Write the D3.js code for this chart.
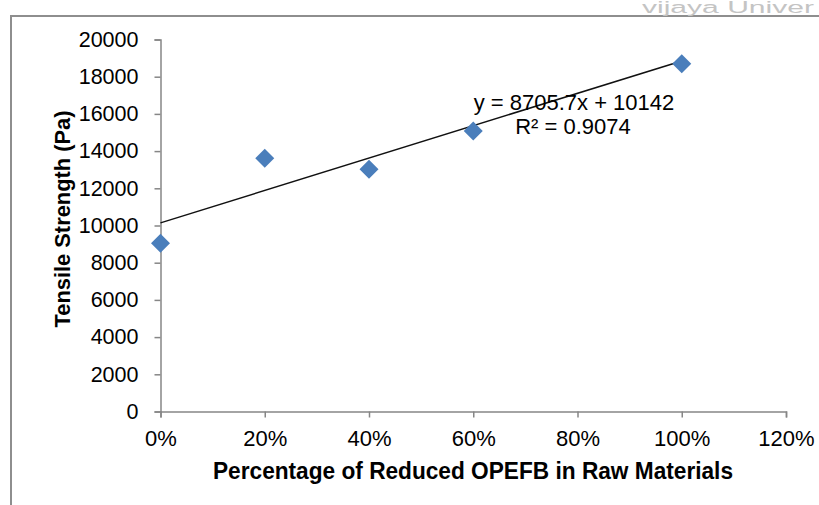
<!DOCTYPE html>
<html>
<head>
<meta charset="utf-8">
<script src="https://cdn.jsdelivr.net/npm/d3@7"></script>
<style>
  body { margin: 0; background: #fff; }
  svg { display: block; font-family: "Liberation Sans", Arial, sans-serif; }
</style>
</head>
<body>
<div id="chart"></div>
<script>
// data
const reduction = [0, 0.2, 0.4, 0.6, 1.0];
const tensile = [9050, 13620, 13030, 15080, 18700];
const yTicks = [0, 2000, 4000, 6000, 8000, 10000, 12000, 14000, 16000, 18000, 20000];
const xTicks = [0, 0.2, 0.4, 0.6, 0.8, 1.0, 1.2];
const slope = 8705.7;
const intercept = 10142;
const eqLabel = "y = 8705.7x + 10142";
const r2Label = "R² = 0.9074";

const W = 819, H = 505;
const plot = { left: 160.5, right: 786, top: 39.5, bottom: 411.5 };

const svg = d3.select("#chart").append("svg")
    .attr("width", W)
    .attr("height", H);

// outer chart frame (extends past the picture edges)
svg.append("rect")
    .attr("x", 11).attr("y", 16)
    .attr("width", 900).attr("height", 600)
    .attr("fill", "#fff")
    .attr("stroke", "#8e8e8e")
    .attr("stroke-width", 2);

// faint watermark at the top right
svg.append("text")
    .attr("x", 642).attr("y", 13)
    .attr("textLength", 172)
    .attr("lengthAdjust", "spacingAndGlyphs")
    .style("font-size", "16px")
    .attr("fill", "#c4c4c4")
    .text("vijaya   Univer");

const x = d3.scaleLinear().domain([0, 1.2]).range([plot.left, plot.right]);
const y = d3.scaleLinear().domain([0, 20000]).range([plot.bottom, plot.top]);

// y axis
const yAxis = svg.append("g")
    .attr("transform", `translate(${plot.left},0)`)
    .call(d3.axisLeft(y).tickValues(yTicks).tickSize(6).tickPadding(16).tickFormat(d3.format("d")));
yAxis.select(".domain").attr("stroke", "#868686").attr("stroke-width", 1.5);
yAxis.selectAll(".tick line").attr("stroke", "#868686").attr("stroke-width", 1.5);
yAxis.selectAll(".tick text")
    .attr("fill", "#000")
    .style("font-size", "21.5px")
    .style("font-family", "Liberation Sans, Arial, sans-serif");

// x axis
const xAxis = svg.append("g")
    .attr("transform", `translate(0,${plot.bottom})`)
    .call(d3.axisBottom(x).tickValues(xTicks).tickSize(6).tickPadding(13).tickFormat(d3.format(".0%")));
xAxis.select(".domain").attr("stroke", "#868686").attr("stroke-width", 1.5);
xAxis.selectAll(".tick line").attr("stroke", "#868686").attr("stroke-width", 1.5);
xAxis.selectAll(".tick text")
    .attr("fill", "#000")
    .style("font-size", "22px")
    .style("font-family", "Liberation Sans, Arial, sans-serif");

// trendline
const trend = [0, 1].map(v => ({ x: v, y: slope * v + intercept }));
svg.append("path")
    .datum(trend)
    .attr("fill", "none")
    .attr("stroke", "#111")
    .attr("stroke-width", 1.5)
    .attr("d", d3.line().x(d => x(d.x)).y(d => y(d.y)));

// diamond markers
const points = reduction.map((r, i) => ({ r: r, v: tensile[i] }));
svg.selectAll(".pt")
    .data(points)
    .enter()
    .append("path")
    .attr("class", "pt")
    .attr("transform", d => `translate(${x(d.r)},${y(d.v)})`)
    .attr("d", "M0,-9.5L9.5,0L0,9.5L-9.5,0Z")
    .attr("fill", "#4a7ebb");

// equation labels
svg.append("text")
    .attr("x", 574).attr("y", 110)
    .attr("text-anchor", "middle")
    .style("font-size", "22px")
    .text(eqLabel);
svg.append("text")
    .attr("x", 573).attr("y", 134)
    .attr("text-anchor", "middle")
    .style("font-size", "22px")
    .text(r2Label);

// axis titles
svg.append("text")
    .attr("x", 473).attr("y", 479)
    .attr("text-anchor", "middle")
    .attr("textLength", 520)
    .attr("lengthAdjust", "spacingAndGlyphs")
    .style("font-size", "23px")
    .style("font-weight", "bold")
    .text("Percentage of Reduced OPEFB in Raw Materials");

svg.append("text")
    .attr("transform", "translate(70,219) rotate(-90)")
    .attr("text-anchor", "middle")
    .attr("textLength", 217)
    .attr("lengthAdjust", "spacingAndGlyphs")
    .style("font-size", "22px")
    .style("font-weight", "bold")
    .text("Tensile Strength (Pa)");
</script>
</body>
</html>
